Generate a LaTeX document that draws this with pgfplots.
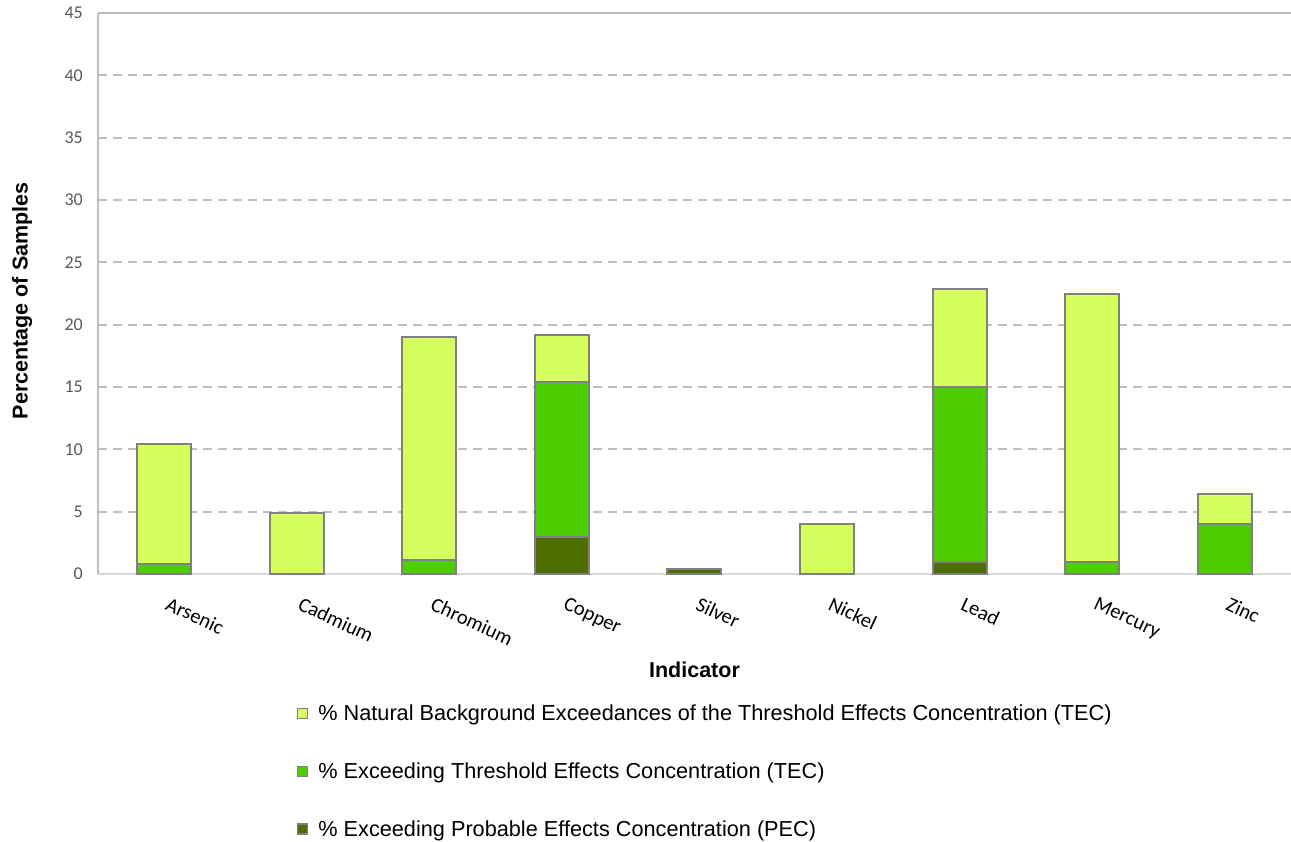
\documentclass[border=0pt]{standalone}
\usepackage{pgfplots}
\usepackage{pgfplotstable}
\pgfplotsset{compat=1.18}
\usepackage{fontspec}
\setmainfont{Liberation Sans}
\newfontfamily\calibri{Carlito}

\definecolor{nbg}{RGB}{212,255,92}
\definecolor{tecc}{RGB}{76,206,0}
\definecolor{pecc}{RGB}{78,110,0}
\definecolor{edge}{RGB}{128,128,128}
\definecolor{gridc}{RGB}{191,191,191}
\definecolor{ticklab}{RGB}{89,89,89}

% Percentage of samples per indicator, stacked PEC / TEC / natural background
\pgfplotstableread{
x name     pec  tec   nbg
0 Arsenic  0    0.8   9.6
1 Cadmium  0    0     4.9
2 Chromium 0    1.1   17.9
3 Copper   3.0  12.4  3.8
4 Silver   0.4  0     0
5 Nickel   0    0     4.0
6 Lead     1.0  14.0  7.9
7 Mercury  0    1.0   21.5
8 Zinc     0    4.0   2.4
}\metals

\begin{document}
\begin{tikzpicture}
\useasboundingbox (0,0) rectangle (1291pt,-842pt);
\begin{axis}[
  at={(98pt,-574pt)}, anchor=south west,
  scale only axis, width=1193pt, height=561pt,
  ybar stacked, bar width=54pt,
  xmin=-0.5, xmax=8.5, ymin=0, ymax=45,
  xtick=data,
  xticklabels={Arsenic,Cadmium,Chromium,Copper,Silver,Nickel,Lead,Mercury,Zinc},
  ytick={0,5,...,40},
  extra y ticks={45},
  extra y tick style={grid style={solid, gridc, line width=2pt}},
  major tick length=0pt,
  ymajorgrids,
  grid style={gridc, line width=2pt, dash pattern=on 9pt off 6pt},
  axis x line*=bottom, axis y line*=left,
  x axis line style={draw={rgb,255:red,217;green,217;blue,217}, line width=2pt, -},
  y axis line style={draw={rgb,255:red,190;green,190;blue,190}, line width=2pt, -},
  /pgf/number format/assume math mode=true,
  yticklabel style={font=\calibri\fontsize{18}{20}\selectfont, text=ticklab, anchor=east, inner sep=0pt, xshift=-15pt},
  xticklabel style={font=\calibri\fontsize{20.5}{22}\selectfont, inner sep=0pt, anchor=north west, yshift=-22pt, xshift=6pt, rotate=-25},
  xlabel={\textbf{Indicator}},
  ylabel={\textbf{Percentage of Samples}},
  label style={font=\fontsize{21.5}{24}\selectfont},
  xlabel style={at={(axis description cs:0.5,-0.171)}, anchor=center},
  ylabel style={at={(axis description cs:-0.0637,0.487)}, anchor=center},
  legend style={draw=none, fill=none, at={(axis description cs:0.1668,-0.233)}, anchor=north west,
    font=\fontsize{21.7}{24}\selectfont, row sep=40.5pt, inner sep=0pt,
    legend cell align=left,
    nodes={inner sep=0pt},
    /tikz/every odd column/.append style={column sep=10pt}},
  reverse legend,
  legend image code/.code={\draw[#1, line width=1.2pt] (0pt,-5pt) rectangle (10pt,5pt);},
  every axis plot/.append style={draw=edge, line width=2pt},
]
\addplot[fill=pecc] table[x=x, y=pec] {\metals};
\addplot[fill=tecc] table[x=x, y=tec] {\metals};
\addplot[fill=nbg] table[x=x, y=nbg] {\metals};
\legend{\% Exceeding Probable Effects Concentration (PEC),
        \% Exceeding Threshold Effects Concentration (TEC),
        \% Natural Background Exceedances of the Threshold Effects Concentration (TEC)}
\end{axis}
\end{tikzpicture}
\end{document}
